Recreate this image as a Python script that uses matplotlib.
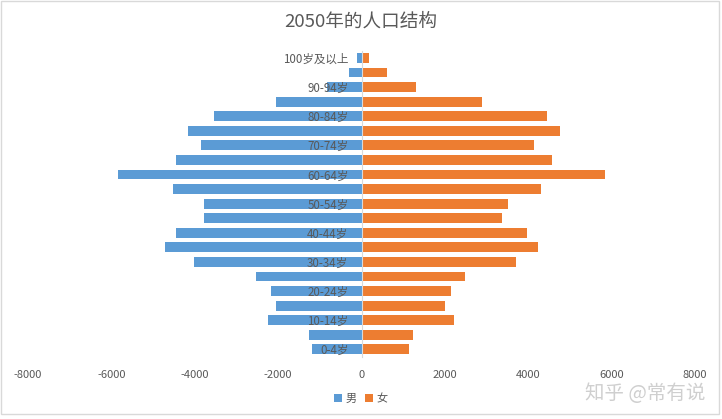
import matplotlib
matplotlib.use('Agg')
import matplotlib.pyplot as plt
import numpy as np
from matplotlib.patches import Rectangle

plt.rcParams['font.family'] = ['Noto Sans CJK SC', 'DejaVu Sans']
plt.rcParams['axes.unicode_minus'] = False

# age groups from youngest to oldest
ages = ['0-4岁', '5-9岁', '10-14岁', '15-19岁', '20-24岁', '25-29岁', '30-34岁',
        '35-39岁', '40-44岁', '45-49岁', '50-54岁', '55-59岁', '60-64岁', '65-69岁',
        '70-74岁', '75-79岁', '80-84岁', '85-89岁', '90-94岁', '95-99岁', '100岁及以上']

# male values are negative so they point left
male = [-1180, -1250, -2250, -2040, -2180, -2540, -4030, -4720, -4460, -3790, -3790,
        -4530, -5850, -4440, -3860, -4170, -3550, -2040, -820, -310, -100]
female = [1150, 1230, 2210, 2000, 2140, 2480, 3710, 4240, 3970, 3370, 3510,
          4310, 5850, 4580, 4140, 4770, 4460, 2890, 1300, 600, 190]

xticks = [-8000, -6000, -4000, -2000, 0, 2000, 4000, 6000, 8000]

blue = '#5B9BD5'
orange = '#ED7D31'
gray = '#595959'

fig = plt.figure(figsize=(7.22, 4.19), dpi=100)
ax = fig.add_axes([0.0388, 0.149, 0.9238, 0.730])

y = np.arange(len(ages))
ax.barh(y, male, height=0.68, color=blue, label='男')
ax.barh(y, female, height=0.68, color=orange, label='女')

ax.set_xlim(-8000, 8000)
ax.set_ylim(-0.5, len(ages) - 0.5)

# vertical axis sits at zero, label every other age group
ax.spines['left'].set_position(('data', 0))
ax.spines['left'].set_color('#d9d9d9')
for s in ['top', 'right', 'bottom']:
    ax.spines[s].set_visible(False)
ax.set_yticks(y)
ax.set_yticklabels([a if i % 2 == 0 else '' for i, a in enumerate(ages)])
ax.tick_params(axis='y', length=0, pad=9.5, labelsize=8.3, labelcolor=gray)
ax.set_xticks(xticks)
ax.set_xticklabels([str(t) for t in xticks])
ax.tick_params(axis='x', length=0, pad=10, labelsize=8, labelcolor=gray)
ax.set_axisbelow(False)

fig.text(0.5, 1 - 22 / 419, '2050年的人口结构', ha='center', va='center',
         fontsize=13.4, color=gray)

fig.legend(loc='center', bbox_to_anchor=(0.5, 1 - 399 / 419), ncol=2, frameon=False,
           fontsize=8, labelcolor=gray, handlelength=0.7, handleheight=0.7,
           columnspacing=0.8, handletextpad=0.3)

# watermark
fig.text(0.977, 1 - 393 / 419, '知乎 @常有说', ha='right', va='center',
         fontsize=14, color='#cfcfcf')

# chart border
fig.patches.append(Rectangle((0.001, 1 - 414 / 419), 0.995, 414 / 419 - 0.002,
                             transform=fig.transFigure, fill=False,
                             edgecolor='#d9d9d9', linewidth=1))

fig.savefig('out.png', dpi=100)
